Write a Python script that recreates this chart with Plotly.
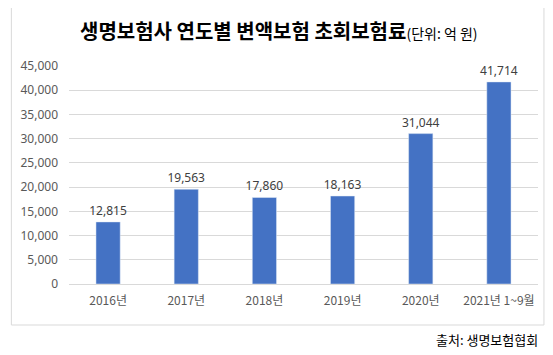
import plotly.graph_objects as go

categories = ["2016년", "2017년", "2018년", "2019년", "2020년", "2021년 1~9월"]
values = [12815, 19563, 17860, 18163, 31044, 41714]
y_ticks = [0, 5000, 10000, 15000, 20000, 25000, 30000, 35000, 40000, 45000]

# page body has an 8px margin, so the figure is offset by 8px
OFF = 8
W, H = 553 - OFF, 355 - OFF
L, R, T, B = 66 - OFF, 23 - OFF, 66 - OFF, 71
pw, ph = W - L - R, H - T - B

def px(x):
    return (x - OFF - L) / pw

def py(y):
    return (H - B - (y - OFF)) / ph

fig = go.Figure(go.Bar(
    x=categories, y=values,
    marker_color="#4472C4",
    text=[f"{v:,}" for v in values],
    textposition="outside",
    textfont=dict(size=12, color="#404040", family="Noto Sans"),
    cliponaxis=False,
    constraintext="none",
))

fig.update_layout(
    width=W, height=H,
    margin=dict(l=L, r=R, t=T, b=B),
    paper_bgcolor="white", plot_bgcolor="white",
    bargap=0.69,
    showlegend=False,
    font=dict(family="Noto Sans, Noto Sans CJK KR", size=12, color="#595959"),
    yaxis=dict(range=[0, 45000], tickvals=y_ticks, tickformat=",",
               gridcolor="#D9D9D9", gridwidth=1, zeroline=False,
               showline=False, ticks="", ticklabelstandoff=10,
               tickfont=dict(size=12, color="#595959")),
    xaxis=dict(showline=True, linecolor="#D9D9D9", ticks="",
               tickfont=dict(size=12, color="#595959", family="Noto Sans CJK KR"),
               ticklabelstandoff=6),
    shapes=[dict(type="rect", xref="paper", yref="paper",
                 x0=px(8), x1=px(544), y0=py(325), y1=py(7),
                 line=dict(color="#D9D9D9", width=1), fillcolor="rgba(0,0,0,0)",
                 layer="below")],
    annotations=[
        dict(xref="paper", yref="paper", x=px(75), y=py(30), xanchor="left", yanchor="middle",
             showarrow=False,
             text="<b>생명보험사 연도별 변액보험 초회보험료</b><span style='font-size:14px'>(단위: 억 원)</span>",
             font=dict(size=20, color="#000000", family="Noto Sans CJK KR")),
        dict(xref="paper", yref="paper", x=px(540), y=py(339), xanchor="right", yanchor="middle",
             showarrow=False, text="출처: 생명보험협회",
             font=dict(size=13, color="#000000", family="Noto Sans CJK KR")),
    ],
)

fig.write_html("out.html")
